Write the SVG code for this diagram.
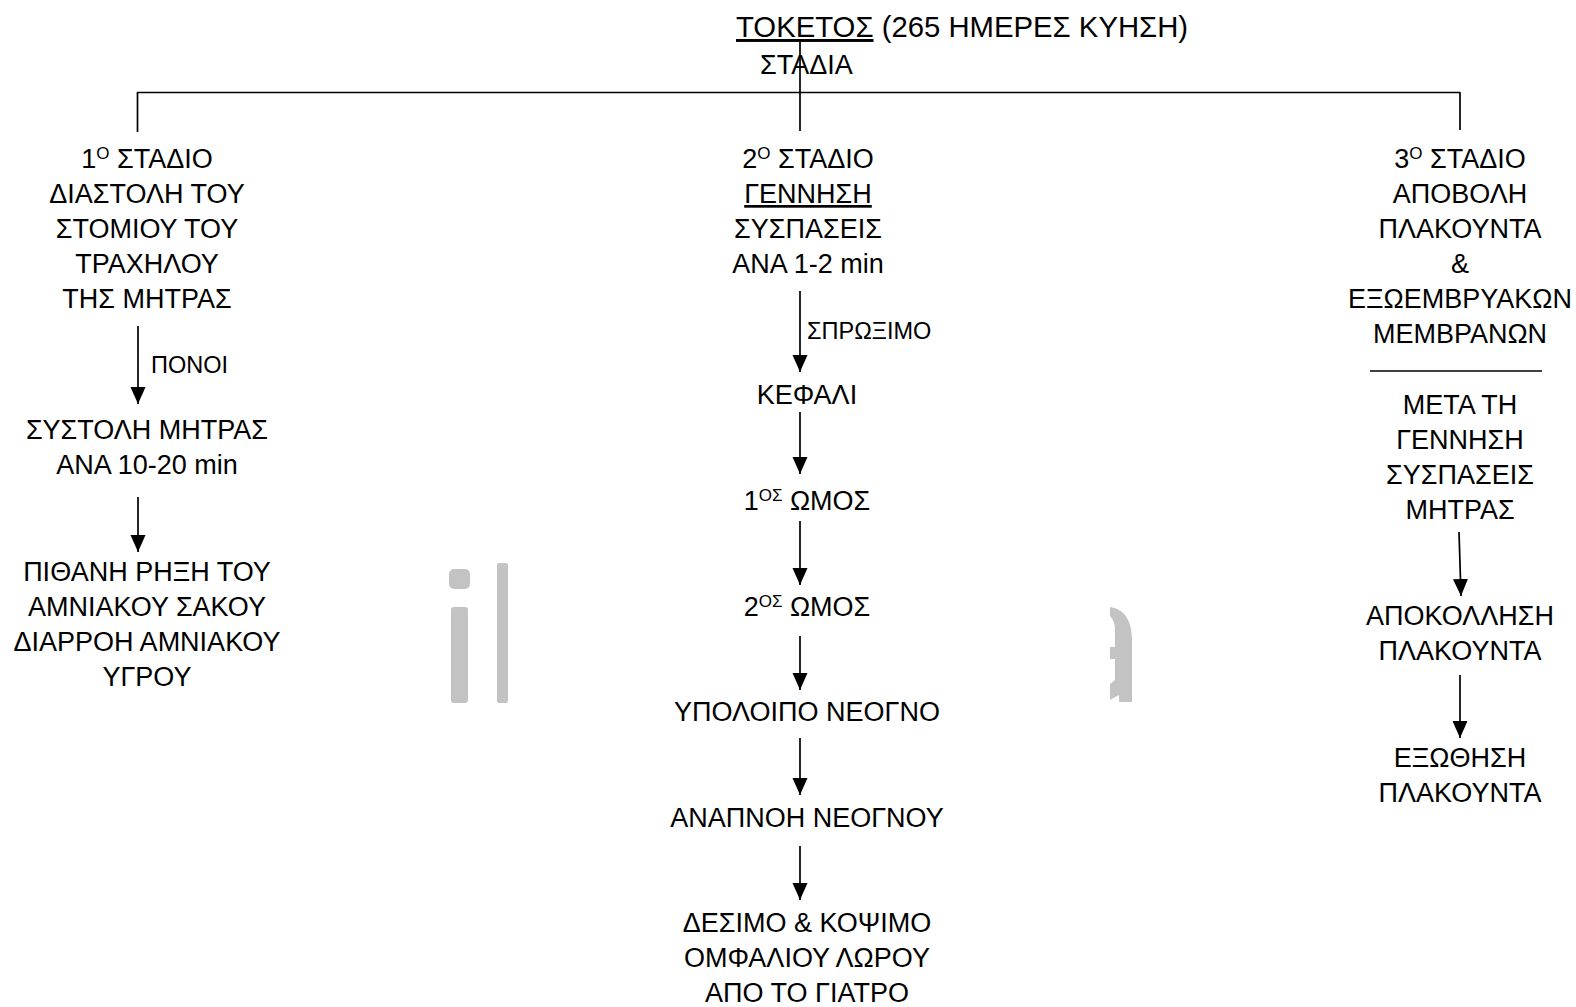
<svg xmlns="http://www.w3.org/2000/svg" width="1576" height="1007" viewBox="0 0 1576 1007">
<style>
text{font-family:"Liberation Sans",Arial,sans-serif;font-size:27px;fill:#000;text-anchor:middle}
.t{font-size:29.3px;text-anchor:start}
.st{text-anchor:start}
.s{font-size:23.5px;text-anchor:start}
.sup{font-size:17px}
.ln{stroke:#000;stroke-width:1.7;fill:none}
.ar{stroke:#000;stroke-width:1.7;fill:none;marker-end:url(#ah)}
.wm{fill:#c3c3c3}
</style>
<defs>
<marker id="ah" markerUnits="userSpaceOnUse" markerWidth="18" markerHeight="16" refX="17" refY="7.5" orient="auto">
<path d="M0,0 L17,7.5 L0,15 Z" fill="#000"/>
</marker>
</defs>
<rect width="1576" height="1007" fill="#fff"/>
<g id="watermark">
<rect class="wm" x="449" y="569" width="21" height="20" rx="5"/>
<rect class="wm" x="451" y="607" width="17" height="96" rx="3"/>
<rect class="wm" x="497" y="563" width="11" height="140" rx="2"/>
<path class="wm" d="M1110,607 C1124,609 1132,620 1132,640 L1132,702 L1119,702 L1119,695 L1110,700 L1110,684 L1115,680 L1115,659 L1110,659 L1110,647 L1115,647 L1115,630 C1115,622 1112,618 1110,616 Z"/>
</g>
<g id="connectors">
<line class="ln" x1="800" y1="40" x2="800" y2="131"/>
<line class="ln" x1="137" y1="92.5" x2="1460" y2="92.5"/>
<line class="ln" x1="137.5" y1="92" x2="137.5" y2="132"/>
<line class="ln" x1="1460" y1="92" x2="1460" y2="130"/>
<line class="ln" x1="1370" y1="371" x2="1542" y2="371"/>
<line class="ar" x1="138" y1="326" x2="138" y2="404"/>
<line class="ar" x1="138" y1="497" x2="138" y2="552"/>
<line class="ar" x1="800" y1="291" x2="800" y2="372"/>
<line class="ar" x1="800" y1="412" x2="800" y2="474"/>
<line class="ar" x1="800" y1="521" x2="800" y2="585"/>
<line class="ar" x1="800" y1="636" x2="800" y2="690"/>
<line class="ar" x1="800" y1="738" x2="800" y2="795"/>
<line class="ar" x1="800" y1="846" x2="800" y2="900"/>
<line class="ar" x1="1459" y1="532" x2="1461" y2="596"/>
<line class="ar" x1="1460" y1="675" x2="1460" y2="738"/>
</g>
<g id="title">
<text class="t" x="736" y="37"><tspan text-decoration="underline">ΤΟΚΕΤΟΣ</tspan> (265 ΗΜΕΡΕΣ ΚΥΗΣΗ)</text>
</g>
<g id="stadia">
<text class="st" x="760" y="74">ΣΤΑΔΙΑ</text>
</g>
<g id="stage1">
<text x="147" y="168">1<tspan class="sup" dy="-9">Ο</tspan><tspan dy="9"> ΣΤΑΔΙΟ</tspan></text>
<text x="147" y="203">ΔΙΑΣΤΟΛΗ ΤΟΥ</text>
<text x="147" y="238">ΣΤΟΜΙΟΥ ΤΟΥ</text>
<text x="147" y="273">ΤΡΑΧΗΛΟΥ</text>
<text x="147" y="308">ΤΗΣ ΜΗΤΡΑΣ</text>
</g>
<g id="ponoi">
<text class="s" x="151" y="373">ΠΟΝΟΙ</text>
</g>
<g id="systoli">
<text x="147" y="439">ΣΥΣΤΟΛΗ ΜΗΤΡΑΣ</text>
<text x="147" y="474">ΑΝΑ 10-20 min</text>
</g>
<g id="rixi">
<text x="147" y="581">ΠΙΘΑΝΗ ΡΗΞΗ ΤΟΥ</text>
<text x="147" y="616">ΑΜΝΙΑΚΟΥ ΣΑΚΟΥ</text>
<text x="147" y="651">ΔΙΑΡΡΟΗ ΑΜΝΙΑΚΟΥ</text>
<text x="147" y="686">ΥΓΡΟΥ</text>
</g>
<g id="stage2">
<text x="808" y="168">2<tspan class="sup" dy="-9">Ο</tspan><tspan dy="9"> ΣΤΑΔΙΟ</tspan></text>
<text x="808" y="203" text-decoration="underline">ΓΕΝΝΗΣΗ</text>
<text x="808" y="238">ΣΥΣΠΑΣΕΙΣ</text>
<text x="808" y="273">ΑΝΑ 1-2 min</text>
</g>
<g id="sproximo">
<text class="s" x="807" y="339">ΣΠΡΩΞΙΜΟ</text>
</g>
<g id="kefali">
<text x="807" y="404">ΚΕΦΑΛΙ</text>
</g>
<g id="omos1">
<text x="807" y="510">1<tspan class="sup" dy="-9">ΟΣ</tspan><tspan dy="9"> ΩΜΟΣ</tspan></text>
</g>
<g id="omos2">
<text x="807" y="616">2<tspan class="sup" dy="-9">ΟΣ</tspan><tspan dy="9"> ΩΜΟΣ</tspan></text>
</g>
<g id="ypoloipo">
<text x="807" y="721">ΥΠΟΛΟΙΠΟ ΝΕΟΓΝΟ</text>
</g>
<g id="anapnoi">
<text x="807" y="827">ΑΝΑΠΝΟΗ ΝΕΟΓΝΟΥ</text>
</g>
<g id="desimo">
<text x="807" y="932">ΔΕΣΙΜΟ &amp; ΚΟΨΙΜΟ</text>
<text x="807" y="967">ΟΜΦΑΛΙΟΥ ΛΩΡΟΥ</text>
<text x="807" y="1002">ΑΠΟ ΤΟ ΓΙΑΤΡΟ</text>
</g>
<g id="stage3">
<text x="1460" y="168">3<tspan class="sup" dy="-9">Ο</tspan><tspan dy="9"> ΣΤΑΔΙΟ</tspan></text>
<text x="1460" y="203">ΑΠΟΒΟΛΗ</text>
<text x="1460" y="238">ΠΛΑΚΟΥΝΤΑ</text>
<text x="1460" y="273">&amp;</text>
<text x="1460" y="308">ΕΞΩΕΜΒΡΥΑΚΩΝ</text>
<text x="1460" y="343">ΜΕΜΒΡΑΝΩΝ</text>
</g>
<g id="meta">
<text x="1460" y="414">ΜΕΤΑ ΤΗ</text>
<text x="1460" y="449">ΓΕΝΝΗΣΗ</text>
<text x="1460" y="484">ΣΥΣΠΑΣΕΙΣ</text>
<text x="1460" y="519">ΜΗΤΡΑΣ</text>
</g>
<g id="apokollisi">
<text x="1460" y="625">ΑΠΟΚΟΛΛΗΣΗ</text>
<text x="1460" y="660">ΠΛΑΚΟΥΝΤΑ</text>
</g>
<g id="exothisi">
<text x="1460" y="767">ΕΞΩΘΗΣΗ</text>
<text x="1460" y="802">ΠΛΑΚΟΥΝΤΑ</text>
</g>
</svg>
